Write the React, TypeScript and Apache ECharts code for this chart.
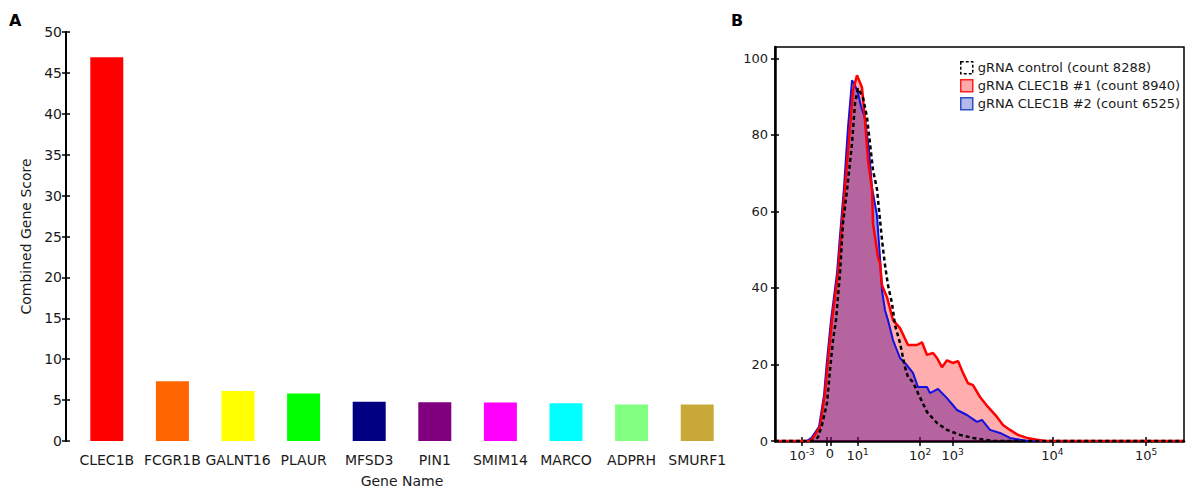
import React, { useEffect, useRef } from 'react';
import * as echarts from 'echarts';

// ---------- Panel A data ----------
const genes = ['CLEC1B', 'FCGR1B', 'GALNT16', 'PLAUR', 'MFSD3', 'PIN1', 'SMIM14', 'MARCO', 'ADPRH', 'SMURF1'];
const scores = [46.9, 7.3, 6.1, 5.8, 4.8, 4.75, 4.7, 4.6, 4.45, 4.45];
const barColors = ['#FF0000', '#FF6600', '#FFFF00', '#00FF00', '#000080', '#800080', '#FF00FF', '#00FFFF', '#80FF80', '#C9A83A'];

// ---------- Panel B data (x in display units along the biexponential axis) ----------
const xTickPos = [27, 51.7, 55.7, 82.7, 145, 177.7, 277.3, 371];
const xLabelPos = [27, 55, 82.7, 145, 177.7, 277.3, 371];
const xLabelText = ['10{sup|-3}', '0', '10{sup|1}', '10{sup|2}', '10{sup|3}', '10{sup|4}', '10{sup|5}'];
const yTicksB = [0, 20, 40, 60, 80, 100];

const seriesNames = ['gRNA control (count 8288)', 'gRNA CLEC1B #1 (count 8940)', 'gRNA CLEC1B #2 (count 6525)'];

const controlCurve: [number, number][] = [
  [0, 0], [37, 0], [40, 0.3], [43, 1], [47, 4.2], [52, 9.9], [55, 18.5], [58, 26.4], [61, 31.6],
  [65, 43.9], [68, 56.9], [72, 65.5], [77, 77.8], [80, 88.3], [83, 92.2], [88, 89.8], [92, 84.6],
  [95, 77.8], [98, 70.8], [102, 65.8], [107, 52.5], [110, 46], [113, 40.7], [117, 36], [120, 30.3],
  [125, 25.6], [130, 19.3], [133, 16.7], [138, 15.4], [143, 12.5], [152, 7.6], [162, 4.7],
  [172, 2.9], [185, 1.6], [198, 0.8], [218, 0], [409, 0],
];

const clec1Curve: [number, number][] = [
  [0, 0], [35, 0], [38, 0.8], [45, 3.7], [50, 12.5], [53, 21.1], [57, 31.6], [63, 43.9], [67, 56.9],
  [70, 66.3], [75, 82], [78, 91.6], [82, 95.6], [87, 92.4], [90, 83.8], [93, 73.4], [97, 65.8],
  [98, 56.9], [103, 48], [105, 46.5], [107, 40.7], [112, 37.6], [118, 31.6], [125, 29.5],
  [133, 25.1], [142, 25.1], [147, 25.8], [152, 22.5], [158, 23], [162, 21.7], [167, 19.3],
  [172, 21.1], [178, 20.4], [183, 20.9], [188, 17.8], [193, 15.1], [198, 14.6], [205, 11.5],
  [213, 8.9], [222, 6.3], [228, 4.2], [235, 2.9], [243, 1.6], [252, 0.8], [262, 0.3], [270, 0], [409, 0],
];

const clec2Curve: [number, number][] = [
  [0, 0], [32, 0], [37, 1], [44, 3.7], [49, 12], [52, 21.1], [56, 31.6], [62, 43.9], [66, 56.9],
  [69, 66.3], [73, 82], [77, 94.3], [80, 93], [83, 91], [86, 87.5], [90, 84.3], [94, 76],
  [97, 66.3], [102, 59], [105, 48], [107, 39.4], [110, 34.2], [113, 31.6], [118, 26.4],
  [125, 21.7], [132, 19.8], [138, 17.8], [143, 14.1], [152, 14.1], [155, 12.5], [163, 13.6],
  [172, 11.2], [182, 8.1], [192, 6.8], [202, 5], [207, 5.5], [215, 2.9], [225, 2.1], [235, 0.8],
  [245, 0.3], [253, 0], [409, 0],
];

const FONT = 'DejaVu Sans';
const TXT = '#1a1a1a';

export default function App() {
  const ref = useRef<HTMLDivElement>(null);

  useEffect(() => {
    if (!ref.current) return;
    const chart = echarts.init(ref.current, undefined, { renderer: 'svg' });

    const option: any = {
      animation: false,
      backgroundColor: '#fff',
      textStyle: { fontFamily: FONT },
      graphic: [
        { type: 'text', left: 9, top: 12, style: { text: 'A', font: `bold 16px "${FONT}"`, fill: '#000' } },
        { type: 'text', left: 731, top: 12, style: { text: 'B', font: `bold 16px "${FONT}"`, fill: '#000' } },
      ],
      legend: {
        orient: 'vertical',
        left: 955,
        top: 56,
        icon: 'rect',
        itemWidth: 12,
        itemHeight: 12,
        itemGap: 4.5,
        textStyle: { fontFamily: FONT, fontSize: 13, color: TXT },
        data: [
          { name: seriesNames[0], itemStyle: { color: '#ffffff', borderColor: '#000', borderWidth: 1.5, borderType: [3, 2] } },
          { name: seriesNames[1], itemStyle: { color: '#FFAAAA', borderColor: '#FF2020', borderWidth: 1.5 } },
          { name: seriesNames[2], itemStyle: { color: '#B3BAEA', borderColor: '#2D4FC8', borderWidth: 1.5 } },
        ],
      },
      grid: [
        { left: 74, top: 32, width: 656, height: 415, containLabel: false },
        { left: 775, top: 47, width: 409, height: 394, containLabel: false, show: true, borderColor: '#000', borderWidth: 1.5 },
      ],
      xAxis: [
        {
          type: 'category',
          gridIndex: 0,
          position: 'bottom',
          data: genes,
          axisLine: { show: false },
          axisTick: { show: false },
          axisLabel: { margin: 12, fontFamily: FONT, fontSize: 14, color: TXT, interval: 0 },
          name: 'Gene Name',
          nameLocation: 'middle',
          nameGap: 33,
          nameTextStyle: { fontFamily: FONT, fontSize: 14, color: TXT },
        },
        {
          type: 'value',
          gridIndex: 1,
          position: 'bottom',
          min: 0,
          max: 409,
          axisLine: { show: true, lineStyle: { color: '#000', width: 2.5 } },
          axisTick: { show: true, customValues: xTickPos, length: 5, lineStyle: { color: '#000', width: 1.5 } },
          axisLabel: {
            show: true,
            customValues: xLabelPos,
            margin: 6,
            fontFamily: FONT,
            fontSize: 13,
            color: TXT,
            formatter: (v: number) => {
              const i = xLabelPos.findIndex((p) => Math.abs(p - v) < 0.01);
              return i >= 0 ? xLabelText[i] : '';
            },
            rich: {
              sup: { fontSize: 9, fontFamily: FONT, color: TXT, verticalAlign: 'bottom', padding: [0, 0, 7, 0] },
            },
          },
          splitLine: { show: false },
        },
        {
          type: 'value',
          gridIndex: 1,
          position: 'bottom',
          min: 0,
          max: 409,
          axisLine: { show: false },
          axisTick: { show: true, inside: true, customValues: xTickPos, length: 4, lineStyle: { color: '#000', width: 1.5 } },
          axisLabel: { show: false },
          splitLine: { show: false },
        },
      ],
      yAxis: [
        {
          type: 'value',
          gridIndex: 0,
          position: 'left',
          min: 0,
          max: 50,
          interval: 5,
          offset: 8,
          axisLine: { show: true, lineStyle: { color: '#000', width: 2 } },
          axisTick: { show: true, length: 4, lineStyle: { color: '#000', width: 1.5 } },
          axisLabel: { margin: 4, fontFamily: FONT, fontSize: 14, color: TXT },
          splitLine: { show: false },
          name: 'Combined Gene Score',
          nameLocation: 'middle',
          nameGap: 24,
          nameTextStyle: { fontFamily: FONT, fontSize: 14, color: TXT },
        },
        {
          type: 'value',
          gridIndex: 0,
          position: 'left',
          min: 0,
          max: 50,
          interval: 5,
          offset: 8,
          axisLine: { show: false },
          axisTick: { show: true, inside: true, length: 4, lineStyle: { color: '#000', width: 1.5 } },
          axisLabel: { show: false },
          splitLine: { show: false },
        },
        {
          type: 'value',
          gridIndex: 1,
          position: 'left',
          min: 0,
          max: 103,
          axisLine: { show: true, lineStyle: { color: '#000', width: 2.5 } },
          axisTick: { show: true, customValues: yTicksB, length: 4, lineStyle: { color: '#000', width: 1.5 } },
          axisLabel: { customValues: yTicksB, margin: 7, fontFamily: FONT, fontSize: 13, color: TXT },
          splitLine: { show: false },
        },
        {
          type: 'value',
          gridIndex: 1,
          position: 'left',
          min: 0,
          max: 103,
          axisLine: { show: false },
          axisTick: { show: true, inside: true, customValues: yTicksB, length: 4, lineStyle: { color: '#000', width: 1.5 } },
          axisLabel: { show: false },
          splitLine: { show: false },
        },
      ],
      series: [
        {
          type: 'bar',
          xAxisIndex: 0,
          yAxisIndex: 0,
          barWidth: 33,
          data: scores.map((v, i) => ({ value: v, itemStyle: { color: barColors[i] } })),
        },
        {
          name: seriesNames[2],
          type: 'line',
          xAxisIndex: 1,
          yAxisIndex: 2,
          data: clec2Curve,
          showSymbol: false,
          symbol: 'none',
          lineStyle: { color: '#1010E0', width: 2 },
          itemStyle: { color: '#B3BAEA' },
          areaStyle: { color: 'rgba(0,0,205,0.42)', opacity: 1 },
        },
        {
          name: seriesNames[1],
          type: 'line',
          xAxisIndex: 1,
          yAxisIndex: 2,
          data: clec1Curve,
          showSymbol: false,
          symbol: 'none',
          lineStyle: { color: '#FF0000', width: 2.5 },
          itemStyle: { color: '#FFAAAA' },
          areaStyle: { color: 'rgba(255,0,0,0.32)', opacity: 1 },
        },
        {
          name: seriesNames[0],
          type: 'line',
          xAxisIndex: 1,
          yAxisIndex: 2,
          data: controlCurve,
          showSymbol: false,
          symbol: 'none',
          lineStyle: { color: '#000', width: 2.5, type: [4, 3] },
          itemStyle: { color: '#fff' },
        },
      ],
    };

    chart.setOption(option);
    return () => chart.dispose();
  }, []);

  return <div ref={ref} style={{ position: 'fixed', left: 0, top: 0, width: 1188, height: 493 }} />;
}
